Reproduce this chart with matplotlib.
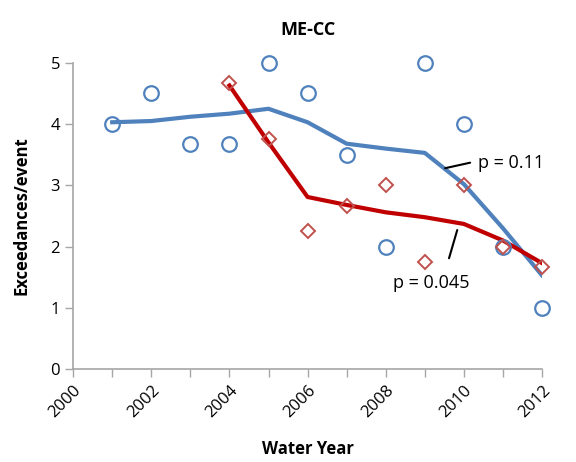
import matplotlib.pyplot as plt
from matplotlib.ticker import MultipleLocator

plt.rcParams["font.family"] = ["Open Sans", "DejaVu Sans"]

BLUE = "#4f81bd"
RED_LINE = "#c00000"
RED_MARK = "#c0504d"
AXIS = "#a6a6a6"

# observed values
blue_years = [2001, 2002, 2003, 2004, 2005, 2006, 2007, 2008, 2009, 2010, 2011, 2012]
blue_obs = [4.0, 4.5, 3.67, 3.67, 5.0, 4.5, 3.5, 2.0, 5.0, 4.0, 2.0, 1.0]
red_years = [2004, 2005, 2006, 2007, 2008, 2009, 2010, 2011, 2012]
red_obs = [4.67, 3.75, 2.25, 2.67, 3.0, 1.75, 3.0, 2.0, 1.67]

# smoothed trends
blue_fit = [4.03, 4.05, 4.12, 4.17, 4.25, 4.03, 3.68, 3.6, 3.53, 3.02, 2.3, 1.53]
red_fit = [4.63, 3.7, 2.81, 2.68, 2.56, 2.48, 2.37, 2.1, 1.73]

fig = plt.figure(figsize=(5.76, 4.62), dpi=100, facecolor="white")
ax = fig.add_axes([0.127, 0.201, 0.814, 0.663])

ax.plot(blue_years, blue_fit, color=BLUE, lw=3, zorder=3,
        solid_joinstyle="round")
ax.plot(red_years, red_fit, color=RED_LINE, lw=3, zorder=3,
        solid_joinstyle="round")
ax.plot(blue_years, blue_obs, ls="none", marker="o", ms=10.5, mfc="none",
        mec=BLUE, mew=1.6, zorder=4, clip_on=False)
ax.plot(red_years, red_obs, ls="none", marker="D", ms=7.5, mfc="none",
        mec=RED_MARK, mew=1.4, zorder=4, clip_on=False)

# p-value labels with leader lines
leader = dict(arrowstyle="-", color="black", lw=1.5, shrinkA=0, shrinkB=0)
ax.annotate("", xy=(2010.16, 3.37), xytext=(2009.52, 3.28), arrowprops=leader)
ax.text(2010.36, 3.37, "p = 0.11", fontsize=13, va="center", ha="left")
ax.annotate("", xy=(2009.83, 2.27), xytext=(2009.62, 1.81), arrowprops=leader)
ax.text(2009.16, 1.4, "p = 0.045", fontsize=13, va="center", ha="center")

ax.set_xlim(2000, 2012)
ax.set_ylim(0, 5)
ax.xaxis.set_major_locator(MultipleLocator(2))
ax.xaxis.set_minor_locator(MultipleLocator(1))
ax.yaxis.set_major_locator(MultipleLocator(1))
ax.tick_params(axis="both", which="both", direction="out", color=AXIS,
               labelsize=12, length=6, width=1)
ax.tick_params(axis="x", which="minor", length=6)
plt.setp(ax.get_xticklabels(), rotation=45, ha="right", rotation_mode="anchor")

for side in ("top", "right"):
    ax.spines[side].set_visible(False)
for side in ("left", "bottom"):
    ax.spines[side].set_color(AXIS)
    ax.spines[side].set_linewidth(1.2)

ax.set_title("ME-CC", fontsize=13, fontweight="bold", pad=20)
ax.set_xlabel("Water Year", fontsize=12, fontweight="bold", labelpad=14)
ax.set_ylabel("Exceedances/event", fontsize=12, fontweight="bold", labelpad=14)

fig.savefig("out.png", dpi=100, facecolor="white")
